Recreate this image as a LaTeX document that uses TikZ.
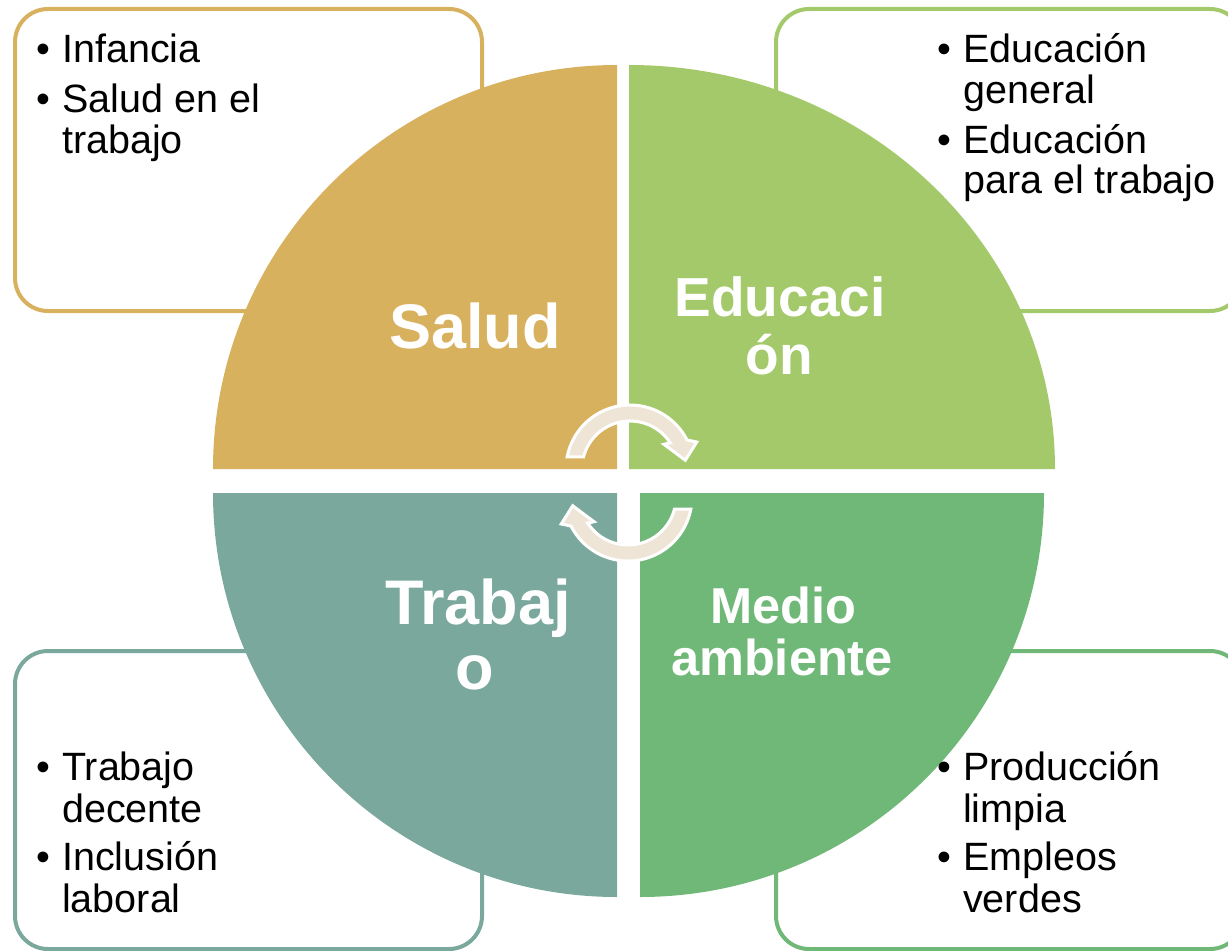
\documentclass[tikz,border=0pt]{standalone}
\usepackage{fontspec}
\setmainfont{Liberation Sans}
\usetikzlibrary{calc}
\definecolor{cgold}{HTML}{D8B15E}
\definecolor{clime}{HTML}{A3C96A}
\definecolor{cteal}{HTML}{7BA89C}
\definecolor{cgreen}{HTML}{70B878}
\definecolor{cbeige}{HTML}{EFE5D7}
\tikzset{
  sidebox/.style={line width=4, fill=white, rounded corners=33},
  item/.style={anchor=base west, inner sep=0, font=\fontsize{39.5}{41}\selectfont, text=black},
  bulletmark/.style={anchor=base, inner sep=0, font=\fontsize{39.5}{41}\selectfont, text=black},
  biglabel/.style={anchor=base, inner sep=0, text=white, font=\bfseries\fontsize{63}{65}\selectfont},
  midlabel/.style={anchor=base, inner sep=0, text=white, font=\bfseries\fontsize{55}{58}\selectfont},
  smalllabel/.style={anchor=base, inner sep=0, text=white, font=\bfseries\fontsize{50.5}{52}\selectfont},
  cyclearrow/.style={fill=cbeige, draw=white, line width=3}
}
\begin{document}
\begin{tikzpicture}[x=1pt, y=-1pt]
\useasboundingbox (0,0) rectangle (1228,950);
% side boxes
\draw[sidebox, draw=cgold]  (15,9) rectangle (482,311);
\draw[sidebox, draw=clime]  (776,9) rectangle (1243,311);
\draw[sidebox, draw=cteal]  (15,651) rectangle (482,949);
\draw[sidebox, draw=cgreen] (776,651) rectangle (1243,949);
% quadrants
\fill[cgold] (617,469) -- ++(-404,0) arc[start angle=180, end angle=270, radius=404] -- cycle;
\fill[clime] (629,469) -- ++(0,-404) arc[start angle=270, end angle=360, x radius=426, y radius=404] -- cycle;
\fill[cgreen] (640,493) -- ++(404,0) arc[start angle=0, end angle=90, radius=404] -- cycle;
\fill[cteal] (617,493) -- ++(0,404) arc[start angle=90, end angle=180, radius=404] -- cycle;
% cycle arrows
\coordinate (T) at (630,469);
\coordinate (B) at (628,497);
\path[cyclearrow] ($(T)+(191:64)$) arc[start angle=191, end angle=333, radius=64]
  -- ($(T)+(338:72)$) -- ($(T)+(351:56)$) -- ($(T)+(324:42)$) -- ($(T)+(327:48)$)
  arc[start angle=327, end angle=194.5, radius=48] -- cycle;
\path[cyclearrow] ($(B)+(11:64)$) arc[start angle=11, end angle=153, radius=64]
  -- ($(B)+(158:72)$) -- ($(B)+(171:56)$) -- ($(B)+(144:42)$) -- ($(B)+(147:48)$)
  arc[start angle=147, end angle=14.5, radius=48] -- cycle;
% quadrant labels
\node[biglabel] (salud) at (475,348) {Salud};
\node[midlabel] (edu1) at (780,316) {Educaci};
\node[midlabel] (edu2) at (779,374) {ón};
\node[biglabel] (trab1) at (478,624) {Trabaj};
\node[biglabel] (trab2) at (475,689) {o};
\node[smalllabel] (medio1) at (783,623) {Medio};
\node[smalllabel] (medio2) at (782,675) {ambiente};
% top-left box text
\node[bulletmark] (b1) at (43,63) {•};
\node[item] (t1) at (62,63) {Infancia};
\node[bulletmark] (b2) at (43,112) {•};
\node[item] (t2) at (62,112) {Salud en el};
\node[item] (t3) at (62,153) {trabajo};
% top-right box text
\node[bulletmark] (b3) at (944,63) {•};
\node[item] (t4) at (963,63) {Educación};
\node[item] (t5) at (963,103) {general};
\node[bulletmark] (b4) at (944,153) {•};
\node[item] (t6) at (963,153) {Educación};
\node[item] (t7) at (963,193) {para el trabajo};
% bottom-left box text
\node[bulletmark] (b5) at (43,780) {•};
\node[item] (t8) at (62,780) {Trabajo};
\node[item] (t9) at (62,822) {decente};
\node[bulletmark] (b6) at (43,870) {•};
\node[item] (t10) at (62,870) {Inclusión};
\node[item] (t11) at (62,912) {laboral};
% bottom-right box text
\node[bulletmark] (b7) at (944,780) {•};
\node[item] (t12) at (963,780) {Producción};
\node[item] (t13) at (963,822) {limpia};
\node[bulletmark] (b8) at (944,870) {•};
\node[item] (t14) at (963,870) {Empleos};
\node[item] (t15) at (963,912) {verdes};
\end{tikzpicture}
\end{document}
